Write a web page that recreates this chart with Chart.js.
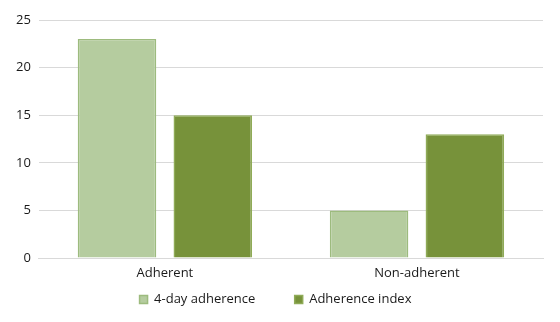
<!DOCTYPE html>
<html>
<head>
<meta charset="utf-8">
<script src="https://cdn.jsdelivr.net/npm/chart.js@4"></script>
<style>
  html, body { margin: 0; padding: 0; background: #fff; }
  #wrap { width: 560px; height: 322px; }
</style>
</head>
<body>
<div id="wrap"><canvas id="adherenceChart"></canvas></div>
<script>
// Chart values
const categories = ['Adherent', 'Non-adherent'];
const seriesNames = ['4-day adherence', 'Adherence index'];
const fourDayAdherence = [23, 5];
const adherenceIndex = [15, 13];
const yTicks = [0, 5, 10, 15, 20, 25];

const fontFamily = 'Open Sans';
const textColor = '#1a1a1a';

const ctx = document.getElementById('adherenceChart').getContext('2d');
const chart = new Chart(ctx, {
    type: 'bar',
    data: {
        labels: categories,
        datasets: [{
            label: seriesNames[0],
            data: fourDayAdherence,
            backgroundColor: '#b5cc9f',
            borderColor: '#9dbb7e',
            borderWidth: 1.5,
            categoryPercentage: 0.76,
            barPercentage: 0.82
        }, {
            label: seriesNames[1],
            data: adherenceIndex,
            backgroundColor: '#77923a',
            borderColor: '#8fab57',
            borderWidth: 1.5,
            categoryPercentage: 0.76,
            barPercentage: 0.82
        }]
    },
    options: {
        responsive: true,
        maintainAspectRatio: false,
        animation: false,
        layout: { padding: { left: 8, right: 17, top: 20, bottom: 6 } },
        plugins: {
            tooltip: { enabled: false },
            legend: {
                position: 'bottom',
                labels: {
                    boxWidth: 8,
                    boxHeight: 8,
                    padding: 10,
                    color: textColor,
                    font: { family: fontFamily, size: 13 },
                    // widen the gap between the two entries without adding vertical padding
                    generateLabels: (c) => {
                        const items = Chart.defaults.plugins.legend.labels.generateLabels(c);
                        items[0].text = items[0].text + '\u2002\u2002\u2002\u2002 ';
                        return items;
                    }
                }
            }
        },
        scales: {
            x: {
                grid: { display: false },
                border: { color: '#d9d9d9', width: 1 },
                ticks: { color: textColor, padding: -1, font: { family: fontFamily, size: 13 } },
                afterFit: (scale) => { scale.height = 25; }
            },
            y: {
                min: 0,
                max: 25,
                afterBuildTicks: (axis) => { axis.ticks = yTicks.map(v => ({ value: v })); },
                grid: { color: '#d9d9d9', lineWidth: 1, drawTicks: false },
                border: { display: false },
                ticks: { color: textColor, padding: 8, font: { family: fontFamily, size: 13 } }
            }
        }
    }
});
</script>
</body>
</html>
